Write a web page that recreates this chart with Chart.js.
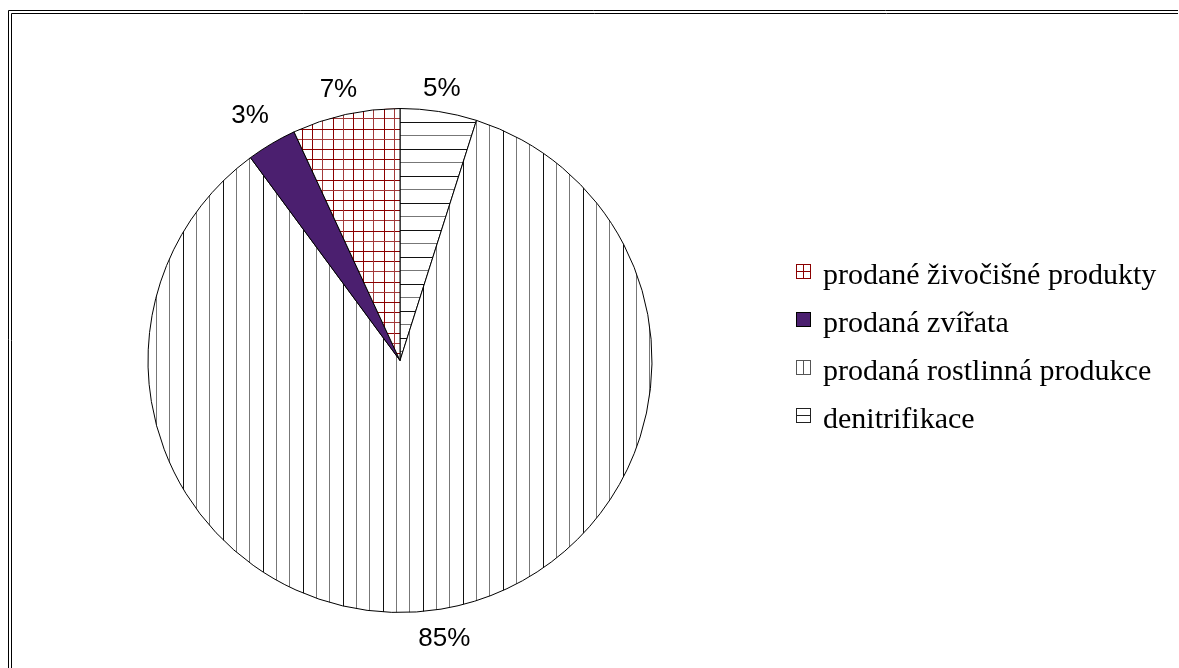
<!DOCTYPE html>
<html>
<head>
<meta charset="utf-8">
<script src="https://cdn.jsdelivr.net/npm/chart.js@4/dist/chart.umd.min.js"></script>
<style>
  html, body { margin: 0; padding: 0; background: #fff; }
  #wrap { width: 1179px; height: 668px; position: relative; overflow: hidden; }
  canvas { display: block; }
</style>
</head>
<body>
<div id="wrap"><canvas id="chart" width="1179" height="668"></canvas></div>
<script>
// Slices, clockwise from 12 o'clock
const categories = [
  'denitrifikace',
  'prodaná rostlinná produkce',
  'prodaná zvířata',
  'prodané živočišné produkty'
];
const shares = [4.9, 84.9, 3.2, 6.9];
// Legend lists the items in reverse slice order
const legendOrder = [3, 2, 1, 0];

const PURPLE = '#4b1f6f';
const DARK_RED = '#8b0000';

function tile(w, h, draw) {
  const c = document.createElement('canvas');
  c.width = w; c.height = h;
  const g = c.getContext('2d');
  g.fillStyle = '#fff';
  g.fillRect(0, 0, w, h);
  draw(g);
  return c;
}

const host = document.getElementById('chart').getContext('2d');

// vertical hatching
const vTile = tile(40, 4, g => {
  g.fillStyle = '#777'; g.fillRect(9, 0, 1, 4);
  g.fillStyle = '#111'; g.fillRect(23, 0, 1, 4);
  g.fillStyle = '#777'; g.fillRect(36, 0, 1, 4);
});
// horizontal hatching
const hTile = tile(4, 27, g => {
  g.fillStyle = '#777'; g.fillRect(0, 0, 4, 1);
  g.fillStyle = '#111'; g.fillRect(0, 14, 4, 1);
});
// red grid
const gTile = tile(51, 51, g => {
  const pos = [6, 16, 27, 37, 47];
  pos.forEach((p, i) => {
    g.fillStyle = i % 2 ? '#a33a3a' : DARK_RED;
    g.fillRect(p, 0, 1, 51);
    g.fillRect(0, p, 51, 1);
  });
});

const fills = [
  host.createPattern(hTile, 'repeat'),
  host.createPattern(vTile, 'repeat'),
  PURPLE,
  host.createPattern(gTile, 'repeat')
];

// Small legend keys
function legendKey(i) {
  const s = 15;
  const c = document.createElement('canvas');
  c.width = s; c.height = s;
  const g = c.getContext('2d');
  g.fillStyle = i === 2 ? PURPLE : '#fff';
  g.fillRect(0, 0, s, s);
  let edge = '#000';
  if (i === 3) {
    edge = DARK_RED;
    g.fillStyle = DARK_RED;
    g.fillRect(7, 0, 1, s);
    g.fillRect(0, 7, s, 1);
  } else if (i === 1) {
    edge = '#555';
    g.fillStyle = '#555';
    g.fillRect(7, 0, 1, s);
  } else if (i === 0) {
    edge = '#222';
    g.fillStyle = '#222';
    g.fillRect(0, 7, s, 1);
  }
  g.strokeStyle = edge;
  g.lineWidth = 1;
  g.strokeRect(0.5, 0.5, s - 1, s - 1);
  return c;
}

const framePlugin = {
  id: 'frame',
  beforeDraw(chart) {
    const g = chart.ctx;
    g.save();
    g.fillStyle = '#fff';
    g.fillRect(0, 0, chart.width, chart.height);
    g.strokeStyle = '#000';
    g.lineWidth = 1;
    g.beginPath();
    g.moveTo(8.5, chart.height); g.lineTo(8.5, 10.5); g.lineTo(chart.width - 1, 10.5);
    g.moveTo(11.5, chart.height); g.lineTo(11.5, 13.5); g.lineTo(chart.width - 1, 13.5);
    g.stroke();
    g.restore();
  }
};

const percentLabels = {
  id: 'percentLabels',
  afterDatasetsDraw(chart) {
    const g = chart.ctx;
    const meta = chart.getDatasetMeta(0);
    const vals = chart.data.datasets[0].data;
    const total = vals.reduce((a, b) => a + b, 0);
    g.save();
    g.font = '26px "Liberation Sans", Arial, sans-serif';
    g.fillStyle = '#000';
    g.textAlign = 'center';
    g.textBaseline = 'middle';
    meta.data.forEach((arc, i) => {
      const p = arc.getProps(['x', 'y', 'startAngle', 'endAngle', 'outerRadius'], true);
      const mid = (p.startAngle + p.endAngle) / 2;
      const side = Math.abs(Math.cos(mid));
      const r = p.outerRadius + 22 + 28 * side;
      const tx = p.x + Math.cos(mid) * r - 6 * side;
      const ty = p.y + Math.sin(mid) * r + 3;
      g.fillText(Math.round(vals[i] / total * 100) + '%', tx, ty);
    });
    g.restore();
  }
};

const sideLegend = {
  id: 'sideLegend',
  afterDraw(chart) {
    const g = chart.ctx;
    g.save();
    g.font = '30px "Liberation Serif", "Times New Roman", serif';
    g.fillStyle = '#000';
    g.textAlign = 'left';
    g.textBaseline = 'alphabetic';
    legendOrder.forEach((idx, row) => {
      const base = 284 + row * 48;
      g.drawImage(legendKey(idx), 796, Math.round(base - 20.5));
      g.fillText(chart.data.labels[idx], 823, base);
    });
    g.restore();
  }
};

new Chart(host, {
  type: 'pie',
  data: {
    labels: categories,
    datasets: [{
      data: shares,
      backgroundColor: fills,
      borderColor: '#000',
      borderWidth: 1,
      hoverOffset: 0
    }]
  },
  options: {
    responsive: false,
    animation: false,
    devicePixelRatio: 1,
    layout: { padding: { left: 0, right: 379, top: 108, bottom: 55 } },
    plugins: {
      legend: { display: false },
      tooltip: { enabled: false }
    }
  },
  plugins: [framePlugin, percentLabels, sideLegend]
});
</script>
</body>
</html>
